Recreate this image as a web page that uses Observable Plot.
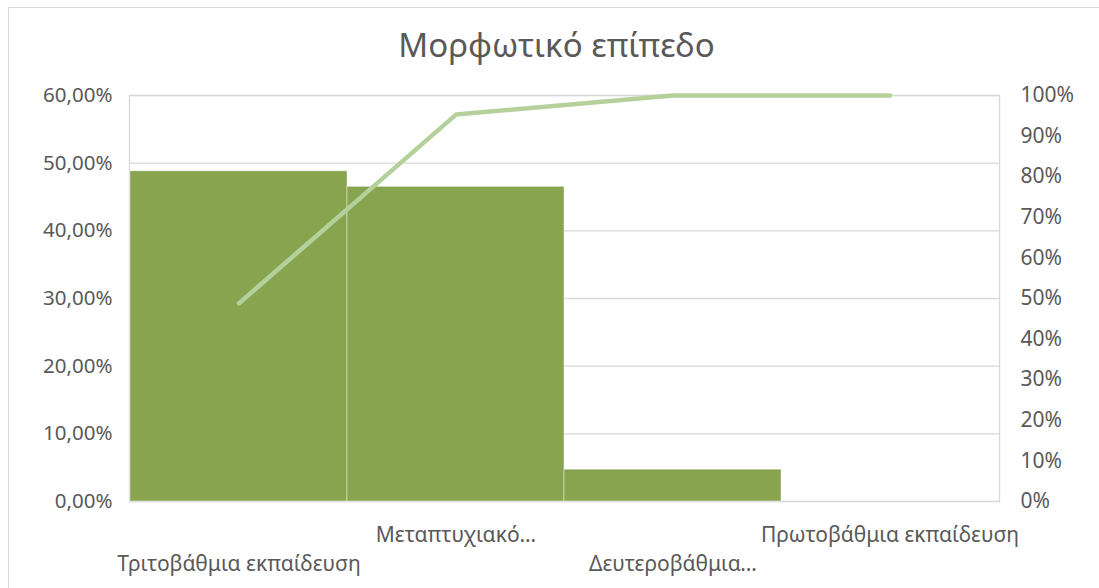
<!DOCTYPE html>
<html>
<head>
<meta charset="utf-8">
<script src="https://cdn.jsdelivr.net/npm/d3@7"></script>
<script src="https://cdn.jsdelivr.net/npm/@observablehq/plot@0.6"></script>
<style>
  html, body { margin: 0; padding: 0; background: #fff; overflow: hidden; }
  #wrap { position: relative; width: 1099px; height: 588px; font-family: "Noto Sans", sans-serif; }
  #border { position: absolute; left: 8px; top: 7px; width: 1200px; height: 700px; border: 1px solid #d9d9d9; box-sizing: border-box; pointer-events: none; }
  #title { height: 70px; line-height: 90px; text-align: center; font-size: 33px; color: #595959; padding-left: 14px; }
  svg { display: block; }
</style>
</head>
<body>
<div id="wrap">
  <div id="border"></div>
  <div id="title">Μορφωτικό επίπεδο</div>
  <div id="chart"></div>
</div>
<script>
const categories = ["Τριτοβάθμια εκπαίδευση", "Μεταπτυχιακό…", "Δευτεροβάθμια…", "Πρωτοβάθμια εκπαίδευση"];
const shares = [48.8, 46.5, 4.7, 0];          // % (left axis)
const cumulative = [48.8, 95.3, 100, 100];    // % (right axis)
const leftTicks = [0, 10, 20, 30, 40, 50, 60];
const rightTicks = [0, 10, 20, 30, 40, 50, 60, 70, 80, 90, 100];

const leftMax = 60, rightMax = 100;
const k = leftMax / rightMax;

const data = categories.map((c, i) => ({cat: c, share: shares[i], cum: cumulative[i]}));
const upperLabels = categories.filter((d, i) => i % 2 === 1);
const lowerLabels = categories.filter((d, i) => i % 2 === 0);

const chart = Plot.plot({
  width: 1099,
  height: 518,
  marginTop: 25,
  marginBottom: 87,
  marginLeft: 129,
  marginRight: 100,
  style: {fontFamily: "Noto Sans, sans-serif", background: "white", color: "#595959"},
  x: {domain: categories, padding: 0, axis: null},
  y: {domain: [0, leftMax], axis: null},
  marks: [
    Plot.gridY(leftTicks, {stroke: "#d9d9d9", strokeOpacity: 1, strokeWidth: 1.3}),
    Plot.frame({stroke: "#d9d9d9", strokeWidth: 1.3}),
    Plot.barY(data, {x: "cat", y: "share", fill: "#88a44f", stroke: "#ffffff", strokeOpacity: 0.45, strokeWidth: 1}),
    Plot.line(data, {x: "cat", y: d => d.cum * k, stroke: "#b5d19b", strokeWidth: 4.5, strokeLinecap: "round", strokeLinejoin: "round"}),
    Plot.axisY(leftTicks, {anchor: "left", label: null, tickSize: 0, tickPadding: 17, tickFormat: d => d.toFixed(2).replace(".", ",") + "%", fontSize: 20.5, color: "#595959"}),
    Plot.axisY(rightTicks.map(v => v * k), {anchor: "right", label: null, tickSize: 0, tickPadding: 21, tickFormat: d => Math.round(d / k) + "%", fontSize: 21, color: "#595959"}),
    Plot.axisX(upperLabels, {anchor: "bottom", label: null, tickSize: 0, tickPadding: 26, fontSize: 21, color: "#595959"}),
    Plot.axisX(lowerLabels, {anchor: "bottom", label: null, tickSize: 0, tickPadding: 55, fontSize: 21, color: "#595959"})
  ]
});
document.getElementById("chart").appendChild(chart);
</script>
</body>
</html>
